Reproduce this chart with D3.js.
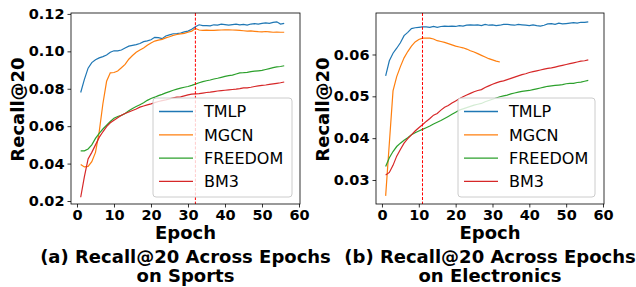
<!DOCTYPE html>
<html lang="en">
	<head>
		<meta charset="utf-8">
		<title>Recall@20 across epochs</title>
		<script type="text/javascript" src="https://cdn.jsdelivr.net/npm/d3@7"></script>
		<style type="text/css">
			body { margin: 0; background: #fff; }
			text { font-family: "DejaVu Sans", sans-serif; }
		</style>
	</head>
	<body>
		<script type="text/javascript">

			//Width and height
			var w = 636;
			var h = 287;

			var methods = ["TMLP", "MGCN", "FREEDOM", "BM3"];
			var colors = ["#1f77b4", "#ff7f0e", "#2ca02c", "#d62728"];
			var xTicks = [0, 10, 20, 30, 40, 50, 60];

			//Sports (a)
			var sportsTicks = [0.02, 0.04, 0.06, 0.08, 0.10, 0.12];
			var sportsBest = 32;
			var sportsTMLP = [0.0780, 0.0850, 0.0910, 0.0940, 0.0955, 0.0965, 0.0972, 0.0980, 0.0995, 0.1003,
							  0.1003, 0.1007, 0.1018, 0.1028, 0.1032, 0.1036, 0.1042, 0.1052, 0.1056, 0.1062,
							  0.1075, 0.1073, 0.1068, 0.1082, 0.1088, 0.1094, 0.1095, 0.1098, 0.1104, 0.1108,
							  0.1118, 0.1132, 0.1142, 0.1138, 0.1138, 0.1136, 0.1142, 0.1140, 0.1145, 0.1143,
							  0.1140, 0.1143, 0.1146, 0.1142, 0.1144, 0.1140, 0.1146, 0.1148, 0.1146, 0.1150,
							  0.1152, 0.1150, 0.1155, 0.1158, 0.1146, 0.1150];
			var sportsMGCN = [0.0395, 0.0382, 0.0385, 0.0410, 0.0460, 0.0570, 0.0720, 0.0840, 0.0885, 0.0887,
							  0.0895, 0.0912, 0.0930, 0.0958, 0.0978, 0.0995, 0.1007, 0.1018, 0.1033, 0.1045,
							  0.1055, 0.1060, 0.1064, 0.1072, 0.1078, 0.1085, 0.1090, 0.1093, 0.1096, 0.1102,
							  0.1108, 0.1122, 0.1114, 0.1112, 0.1113, 0.1112, 0.1112, 0.1113, 0.1114, 0.1115,
							  0.1115, 0.1114, 0.1113, 0.1112, 0.1110, 0.1108, 0.1109, 0.1107, 0.1105, 0.1104,
							  0.1106, 0.1104, 0.1102, 0.1103, 0.1102, 0.1102];
			var sportsFREEDOM = [0.0468, 0.0468, 0.0478, 0.0500, 0.0535, 0.0562, 0.0585, 0.0605, 0.0625, 0.0642,
								 0.0652, 0.0658, 0.0668, 0.0682, 0.0695, 0.0705, 0.0715, 0.0725, 0.0738, 0.0748,
								 0.0755, 0.0763, 0.0770, 0.0778, 0.0785, 0.0792, 0.0798, 0.0803, 0.0808, 0.0812,
								 0.0818, 0.0825, 0.0832, 0.0838, 0.0843, 0.0847, 0.0852, 0.0856, 0.0861, 0.0866,
								 0.0870, 0.0873, 0.0879, 0.0885, 0.0886, 0.0888, 0.0892, 0.0894, 0.0896, 0.0898,
								 0.0903, 0.0908, 0.0913, 0.0917, 0.0919, 0.0923];
			var sportsBM3 = [0.0220, 0.0330, 0.0425, 0.0460, 0.0500, 0.0540, 0.0570, 0.0598, 0.0618, 0.0632,
							 0.0645, 0.0658, 0.0668, 0.0676, 0.0684, 0.0692, 0.0702, 0.0708, 0.0714, 0.0719,
							 0.0726, 0.0732, 0.0737, 0.0741, 0.0746, 0.0751, 0.0755, 0.0757, 0.0762, 0.0767,
							 0.0771, 0.0773, 0.0774, 0.0777, 0.0780, 0.0782, 0.0785, 0.0788, 0.0790, 0.0792,
							 0.0794, 0.0796, 0.0798, 0.0801, 0.0805, 0.0805, 0.0808, 0.0812, 0.0815, 0.0818,
							 0.0820, 0.0823, 0.0826, 0.0829, 0.0832, 0.0836];

			//Electronics (b)
			var elecTicks = [0.03, 0.04, 0.05, 0.06];
			var elecBest = 11;
			var elecTMLP = [0.0549, 0.0585, 0.0603, 0.0615, 0.0628, 0.0645, 0.0653, 0.0662, 0.0664, 0.0665,
							0.0666, 0.0666, 0.0665, 0.0667, 0.0665, 0.0667, 0.0668, 0.0667, 0.0668, 0.0667,
							0.0669, 0.0668, 0.0670, 0.0671, 0.0670, 0.0671, 0.0669, 0.0672, 0.0670, 0.0671,
							0.0669, 0.0670, 0.0672, 0.0672, 0.0671, 0.0670, 0.0672, 0.0671, 0.0670, 0.0669,
							0.0671, 0.0669, 0.0668, 0.0670, 0.0673, 0.0674, 0.0672, 0.0675, 0.0673, 0.0674,
							0.0675, 0.0676, 0.0675, 0.0677, 0.0677, 0.0678];
			var elecMGCN = [0.0262, 0.0388, 0.0513, 0.0547, 0.0571, 0.0592, 0.0607, 0.0620, 0.0630, 0.0636,
							0.0639, 0.0639, 0.0639, 0.0637, 0.0633, 0.0631, 0.0629, 0.0626, 0.0623, 0.0620,
							0.0618, 0.0616, 0.0613, 0.0609, 0.0606, 0.0602, 0.0598, 0.0594, 0.0590, 0.0587,
							0.0584, 0.0582];
			var elecFREEDOM = [0.0332, 0.0353, 0.0368, 0.0380, 0.0388, 0.0395, 0.0401, 0.0408, 0.0413, 0.0417,
							   0.0421, 0.0425, 0.0429, 0.0434, 0.0438, 0.0442, 0.0447, 0.0452, 0.0457, 0.0462,
							   0.0467, 0.0470, 0.0473, 0.0476, 0.0479, 0.0481, 0.0483, 0.0487, 0.0490, 0.0493,
							   0.0496, 0.0499, 0.0501, 0.0503, 0.0506, 0.0508, 0.0510, 0.0512, 0.0513, 0.0514,
							   0.0516, 0.0518, 0.0520, 0.0522, 0.0524, 0.0525, 0.0526, 0.0527, 0.0528, 0.0530,
							   0.0531, 0.0531, 0.0533, 0.0534, 0.0536, 0.0538];
			var elecBM3 = [0.0312, 0.0318, 0.0335, 0.0357, 0.0373, 0.0388, 0.0399, 0.0408, 0.0417, 0.0425,
						   0.0432, 0.0440, 0.0447, 0.0455, 0.0459, 0.0467, 0.0474, 0.0478, 0.0484, 0.0489,
						   0.0494, 0.0499, 0.0503, 0.0507, 0.0511, 0.0514, 0.0516, 0.0521, 0.0525, 0.0529,
						   0.0532, 0.0535, 0.0537, 0.0540, 0.0543, 0.0546, 0.0549, 0.0552, 0.0554, 0.0557,
						   0.0559, 0.0561, 0.0563, 0.0565, 0.0567, 0.0568, 0.0570, 0.0572, 0.0574, 0.0576,
						   0.0578, 0.0580, 0.0582, 0.0584, 0.0585, 0.0587];

			var panels = [
				{ left: 71, right: 300, yDomain: [0.0184, 0.1205], ticks: sportsTicks, best: sportsBest,
				  series: [sportsTMLP, sportsMGCN, sportsFREEDOM, sportsBM3], ylabelX: 18,
				  legendX: 153, legendW: 139, caption: ["(a) Recall@20 Across Epochs", "on Sports"] },
				{ left: 376, right: 604, yDomain: [0.02426, 0.06992], ticks: elecTicks, best: elecBest,
				  series: [elecTMLP, elecMGCN, elecFREEDOM, elecBM3], ylabelX: 323,
				  legendX: 458, legendW: 137, caption: ["(b) Recall@20 Across Epochs", "on Electronics"] }
			];

			var plotTop = 13, plotBottom = 204;

			//Create SVG element
			var svg = d3.select("body")
						.append("svg")
						.attr("width", w)
						.attr("height", h);

			panels.forEach(function(p) {

				var xScale = d3.scaleLinear()
								.domain([-1.62, 60.27])
								.range([p.left, p.right]);

				var yScale = d3.scaleLinear()
								.domain(p.yDomain)
								.range([plotBottom, plotTop]);

				var line = d3.line()
							.x(function(d, i) { return xScale(i + 1); })
							.y(function(d) { return yScale(d); });

				var g = svg.append("g");

				//Lines
				g.selectAll("path.series")
				 .data(p.series)
				 .enter()
				 .append("path")
				 .attr("class", "series")
				 .attr("d", line)
				 .attr("fill", "none")
				 .attr("stroke", function(d, i) { return colors[i]; })
				 .attr("stroke-width", 1.2);

				//Best epoch marker
				g.append("line")
				 .attr("x1", xScale(p.best))
				 .attr("x2", xScale(p.best))
				 .attr("y1", plotTop)
				 .attr("y2", plotBottom)
				 .attr("stroke", "#ff0000")
				 .attr("stroke-width", 1)
				 .attr("stroke-dasharray", "3,1.6");

				//Axes
				var xAxis = d3.axisBottom(xScale)
								.tickValues(xTicks)
								.tickSize(3.5)
								.tickPadding(2.5)
								.tickFormat(d3.format("d"));
				var yAxis = d3.axisLeft(yScale)
								.tickValues(p.ticks)
								.tickSize(3.5)
								.tickPadding(3)
								.tickFormat(d3.format(".2f"));

				var gx = g.append("g")
							.attr("transform", "translate(0," + plotBottom + ")")
							.call(xAxis);
				var gy = g.append("g")
							.attr("transform", "translate(" + p.left + ",0)")
							.call(yAxis);

				[gx, gy].forEach(function(a) {
					a.select(".domain").remove();
					a.selectAll("line").attr("stroke", "#000").attr("stroke-width", 0.8);
					a.selectAll("text")
					 .attr("font-family", "DejaVu Sans")
					 .attr("font-weight", "bold")
					 .attr("font-size", "14.5px")
					 .attr("fill", "#000");
				});

				//Frame
				g.append("rect")
				 .attr("x", p.left)
				 .attr("y", plotTop)
				 .attr("width", p.right - p.left)
				 .attr("height", plotBottom - plotTop)
				 .attr("fill", "none")
				 .attr("stroke", "#000")
				 .attr("stroke-width", 0.8);

				//Legend
				var lg = g.append("g");
				lg.append("rect")
				  .attr("x", p.legendX)
				  .attr("y", 98)
				  .attr("width", p.legendW)
				  .attr("height", 99)
				  .attr("rx", 3)
				  .attr("fill", "#fff")
				  .attr("fill-opacity", 0.8)
				  .attr("stroke", "#cccccc")
				  .attr("stroke-width", 1);

				var items = lg.selectAll("g.item")
							  .data(methods)
							  .enter()
							  .append("g")
							  .attr("class", "item")
							  .attr("transform", function(d, i) { return "translate(" + p.legendX + "," + (111.5 + i * 23.3) + ")"; });
				items.append("line")
					 .attr("x1", 6)
					 .attr("x2", 40)
					 .attr("stroke", function(d, i) { return colors[i]; })
					 .attr("stroke-width", 1.3);
				items.append("text")
					 .attr("x", 51)
					 .attr("y", 5.8)
					 .attr("font-size", "16px")
					 .attr("fill", "#000")
					 .text(function(d) { return d; });

				//Labels
				var cx = (p.left + p.right) / 2;
				svg.append("text")
				   .attr("transform", "translate(" + p.ylabelX + "," + ((plotTop + plotBottom) / 2 + 1) + ") rotate(-90)")
				   .attr("text-anchor", "middle")
				   .attr("dy", "0.35em")
				   .attr("font-weight", "bold")
				   .attr("font-size", "18px")
				   .text("Recall@20");

				svg.append("text")
				   .attr("x", cx)
				   .attr("y", 239)
				   .attr("text-anchor", "middle")
				   .attr("font-weight", "bold")
				   .attr("font-size", "18px")
				   .text("Epoch");

				svg.selectAll(null)
				   .data(p.caption)
				   .enter()
				   .append("text")
				   .attr("x", cx)
				   .attr("y", function(d, i) { return 263 + i * 19; })
				   .attr("text-anchor", "middle")
				   .attr("font-weight", "bold")
				   .attr("font-size", "18px")
				   .text(function(d) { return d; });
			});

		</script>
	</body>
</html>
